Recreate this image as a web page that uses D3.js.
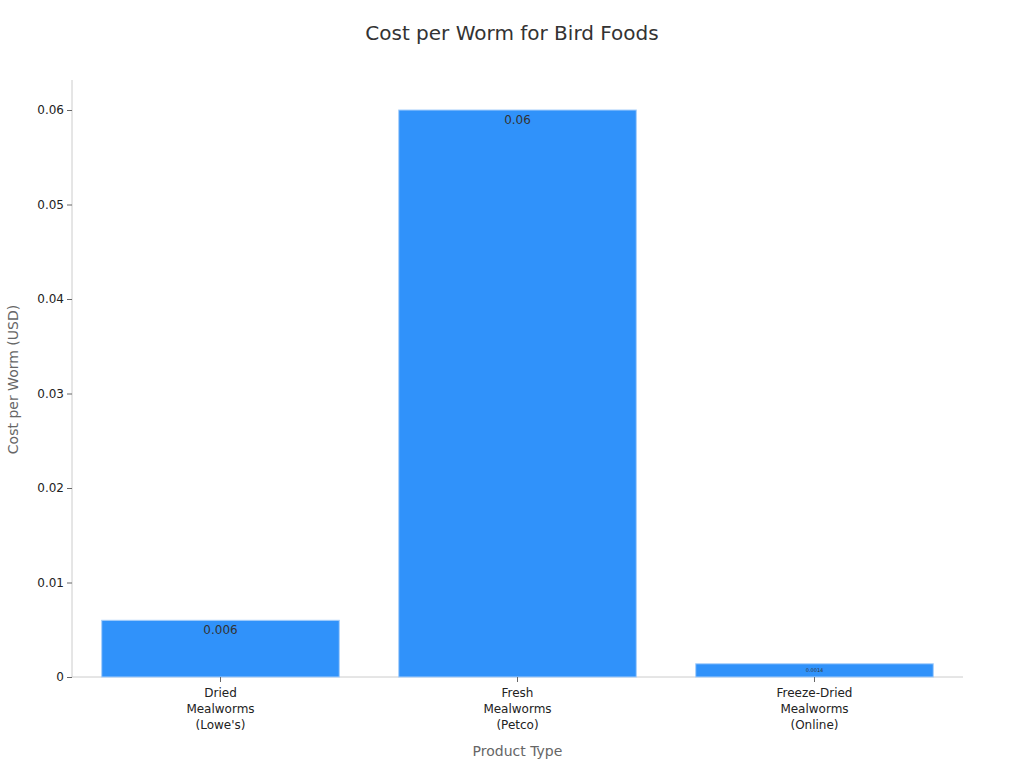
<!DOCTYPE html><html><head><meta charset="utf-8"><script src="https://cdn.jsdelivr.net/npm/d3@7"></script>
<style>body{margin:0;background:#fff;font-family:"DejaVu Sans",sans-serif}</style></head><body><svg id="c" width="1024" height="768"></svg>
<script>
const categories=[["Dried","Mealworms","(Lowe's)"],["Fresh","Mealworms","(Petco)"],["Freeze-Dried","Mealworms","(Online)"]];
const values=[0.006,0.06,0.0014];
const labels=["0.006","0.06","0.0014"];
const yTicks=[0,0.01,0.02,0.03,0.04,0.05,0.06];
const svg=d3.select("#c");
const L=72,R=963,T=80,B=677;
const x=d3.scaleBand().domain(d3.range(3)).range([L,R]).paddingInner(0.2).paddingOuter(0.1);
const y=d3.scaleLinear().domain([0,0.06]).range([B,110]);
svg.append("text").attr("x",512).attr("y",40).attr("text-anchor","middle").attr("font-size",20).attr("fill","#333").text("Cost per Worm for Bird Foods");
svg.append("line").attr("x1",L).attr("x2",L).attr("y1",T).attr("y2",B).attr("stroke","#ccc");
svg.append("line").attr("x1",L).attr("x2",R).attr("y1",B).attr("y2",B).attr("stroke","#ccc");
const ya=svg.append("g").attr("transform",`translate(${L},0)`).call(d3.axisLeft(y).tickValues(yTicks).tickFormat(d=>d===0?"0":d3.format(".2f")(d)).tickSize(5));
ya.select(".domain").remove();ya.selectAll("line").attr("stroke","#666");ya.selectAll("text").attr("font-size",12).attr("fill","#222").attr("font-family","DejaVu Sans");
svg.selectAll("rect.b").data(values).join("rect").attr("x",(d,i)=>x(i)).attr("width",x.bandwidth()).attr("y",d=>y(d)).attr("height",d=>B-y(d)).attr("fill","#3092fa").attr("stroke","#a8cffb").attr("stroke-width",1);
svg.selectAll("text.v").data(values).join("text").attr("x",(d,i)=>x(i)+x.bandwidth()/2).attr("y",(d,i)=>i==2?y(d)+8:y(d)+14).attr("text-anchor","middle").attr("font-size",(d,i)=>i==2?5:12).attr("fill","#333").text((d,i)=>labels[i]);
categories.forEach((c,i)=>{const cx=x(i)+x.bandwidth()/2;
svg.append("line").attr("x1",cx).attr("x2",cx).attr("y1",B).attr("y2",B+5).attr("stroke","#666");
c.forEach((t,j)=>svg.append("text").attr("x",cx).attr("y",B+20+j*16).attr("text-anchor","middle").attr("font-size",12).attr("fill","#222").text(t));});
svg.append("text").attr("x",(L+R)/2).attr("y",756).attr("text-anchor","middle").attr("font-size",14).attr("fill","#666").text("Product Type");
svg.append("text").attr("transform",`translate(18,${(T+B)/2+1}) rotate(-90)`).attr("text-anchor","middle").attr("font-size",14).attr("fill","#666").text("Cost per Worm (USD)");
</script></body></html>
